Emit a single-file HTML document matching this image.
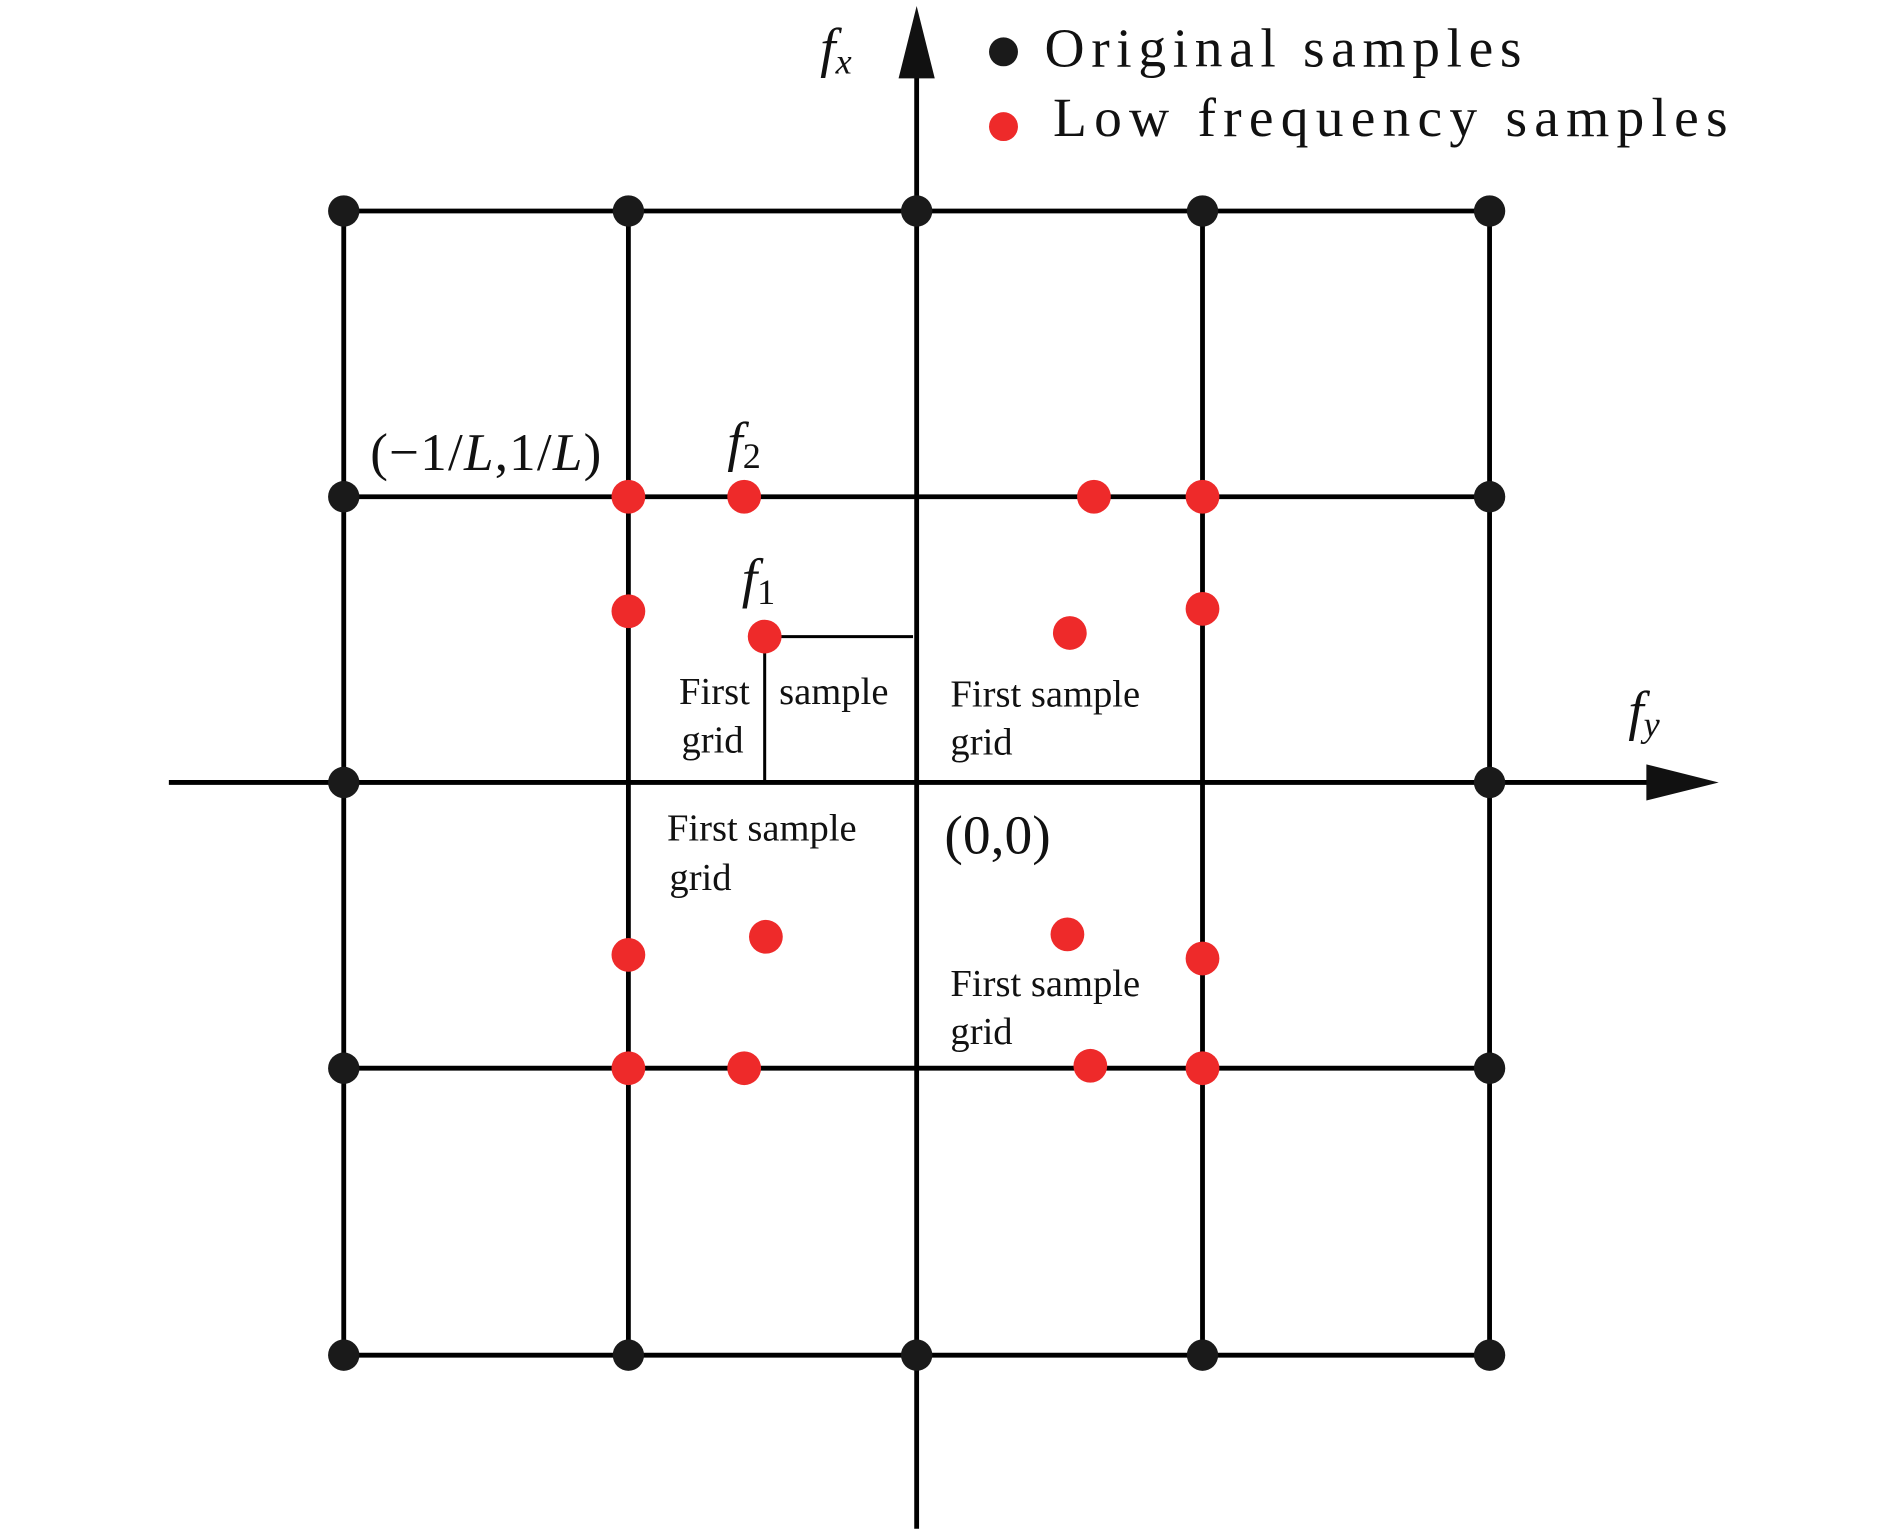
<!DOCTYPE html>
<html><head><style>html,body{margin:0;padding:0;background:#fff}svg{display:block}</style></head>
<body>
<svg width="1890" height="1536" viewBox="0 0 1567 1274" preserveAspectRatio="none" xmlns="http://www.w3.org/2000/svg">
<g stroke="#000" stroke-width="4" fill="none">
<line x1="285" y1="175" x2="1235" y2="175"/>
<line x1="285" y1="412" x2="1235" y2="412"/>
<line x1="285" y1="886" x2="1235" y2="886"/>
<line x1="285" y1="1124" x2="1235" y2="1124"/>
<line x1="285" y1="175" x2="285" y2="1124"/>
<line x1="521" y1="175" x2="521" y2="1124"/>
<line x1="997" y1="175" x2="997" y2="1124"/>
<line x1="1235" y1="175" x2="1235" y2="1124"/>
<line x1="760" y1="50" x2="760" y2="1268"/>
<line x1="140" y1="649" x2="1380" y2="649"/>
</g>
<polygon points="760,5 745,65 775,65" fill="#111"/>
<polygon points="1425,649 1365,634 1365,664" fill="#111"/>
<polyline points="634,649 634,528 757,528" stroke="#000" stroke-width="2.5" fill="none"/>
<g fill="#1a1a1a">
<circle cx="285" cy="175" r="13"/><circle cx="521" cy="175" r="13"/><circle cx="760" cy="175" r="13"/><circle cx="997" cy="175" r="13"/><circle cx="1235" cy="175" r="13"/>
<circle cx="285" cy="412" r="13"/><circle cx="1235" cy="412" r="13"/>
<circle cx="285" cy="649" r="13"/><circle cx="1235" cy="649" r="13"/>
<circle cx="285" cy="886" r="13"/><circle cx="1235" cy="886" r="13"/>
<circle cx="285" cy="1124" r="13"/><circle cx="521" cy="1124" r="13"/><circle cx="760" cy="1124" r="13"/><circle cx="997" cy="1124" r="13"/><circle cx="1235" cy="1124" r="13"/>
<circle cx="832" cy="43" r="12"/>
</g>
<g fill="#ee2a2a">
<circle cx="521" cy="412" r="14"/><circle cx="617" cy="412" r="14"/><circle cx="907" cy="412" r="14"/><circle cx="997" cy="412" r="14"/>
<circle cx="521" cy="507" r="14"/><circle cx="634" cy="528" r="14"/><circle cx="887" cy="525" r="14"/><circle cx="997" cy="505" r="14"/>
<circle cx="521" cy="792" r="14"/><circle cx="635" cy="777" r="14"/><circle cx="885" cy="775" r="14"/><circle cx="997" cy="795" r="14"/>
<circle cx="521" cy="886" r="14"/><circle cx="617" cy="886" r="14"/><circle cx="904" cy="884" r="14"/><circle cx="997" cy="886" r="14"/>
<circle cx="832" cy="105" r="12"/>
</g>
<g font-family="'Liberation Serif', serif" fill="#111">
<text x="866" y="55" font-size="46" letter-spacing="5.5">Original samples</text>
<text x="873" y="113" font-size="46" letter-spacing="6">Low frequency samples</text>
<text x="680" y="55" font-size="46" font-style="italic">f<tspan font-size="30" dy="6">x</tspan></text>
<text x="1350" y="605" font-size="46" font-style="italic">f<tspan font-size="30" dy="6">y</tspan></text>
<text x="603" y="382" font-size="46" font-style="italic">f<tspan font-size="30" dy="6" font-style="normal">2</tspan></text>
<text x="615" y="495" font-size="46" font-style="italic">f<tspan font-size="30" dy="6" font-style="normal">1</tspan></text>
<text x="307" y="390" font-size="44" letter-spacing="1">(−1/<tspan font-style="italic">L</tspan>,1/<tspan font-style="italic">L</tspan>)</text>
<text x="783" y="708" font-size="46">(0,0)</text>
<g font-size="32">
<text x="563" y="584">First</text><text x="646" y="584">sample</text><text x="565" y="624">grid</text>
<text x="788" y="586">First sample</text><text x="788" y="626">grid</text>
<text x="553" y="697">First sample</text><text x="555" y="738">grid</text>
<text x="788" y="826">First sample</text><text x="788" y="866">grid</text>
</g>
</g>
</svg>
</body></html>
